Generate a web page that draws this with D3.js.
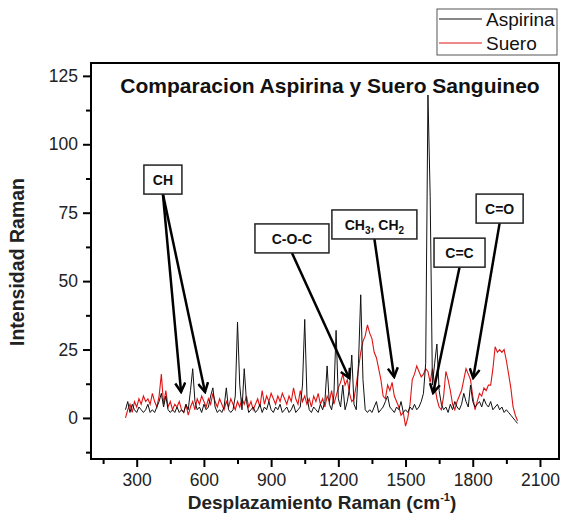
<!DOCTYPE html>
<html>
<head>
<meta charset="utf-8">
<script src="https://cdn.jsdelivr.net/npm/d3@7"></script>
<style>
    body { margin: 0; background: #fff; }
    text { font-family: "Liberation Sans", Arial, sans-serif; }
</style>
</head>
<body>
<svg id="chart" width="561" height="523"></svg>
<script>
// Raman shift grid (cm-1), one value every 10 cm-1 from 250 to 2000
var shiftStart = 250;
var shiftStep = 10;

// Aspirina intensities
var aspirina = [
    3, 6, 2, 5, 3, 2, 4, 3, 2, 3,
    5, 2, 3, 2, 4, 6, 9, 4, 8, 3,
    2, 3, 2, 4, 2, 3, 2, 5, 3, 10,
    18, 6, 3, 4, 2, 5, 3, 4, 8, 11,
    4, 2, 3, 2, 4, 11, 3, 2, 3, 8,
    35, 12, 3, 18, 6, 2, 3, 4, 2, 3,
    5, 2, 4, 3, 6, 3, 2, 4, 3, 5,
    2, 3, 4, 2, 3, 5, 2, 3, 4, 12,
    36, 8, 3, 2, 4, 3, 2, 5, 3, 6,
    19, 5, 3, 8, 32, 7, 4, 12, 3, 6,
    11, 23, 5, 3, 20, 45, 14, 3, 2, 3,
    2, 4, 6, 2, 3, 4, 6, 8, 4, 3,
    2, 4, 3, 6, 2, 3, 2, 4, 3, 5,
    3, 4, 6, 9, 20, 118, 81, 12, 20, 27,
    10, 5, 3, 4, 2, 5, 3, 6, 4, 3,
    5, 9, 6, 4, 12, 6, 4, 5, 6, 4,
    7, 5, 4, 6, 3, 4, 5, 3, 4, 2,
    3, 2, 1, 0, -1, -2
];

// Suero intensities
var suero = [
    0, 3, 5, 2, 6, 4, 7, 5, 8, 6,
    7, 5, 9, 6, 4, 8, 16, 5, 10, 4,
    6, 3, 5, 4, 6, 3, 2, 5, 1, 4,
    6, 3, 7, 5, 8, 6, 4, 7, 5, 9,
    6, 4, 7, 5, 3, 6, 4, 7, 5, 3,
    6, 4, 7, 5, 8, 4, 6, 3, 5, 7,
    4, 10, 5, 8, 6, 9, 7, 5, 8, 6,
    9, 7, 5, 8, 6, 11, 7, 5, 10, 6,
    8, 5, 7, 4, 8, 6, 9, 5, 7, 4,
    8, 6, 10, 5, 8, 11, 13, 16, 12, 14,
    9, 6, 7, 12, 18, 24, 28, 30, 34, 31,
    29, 24, 22, 18, 14, 8, 7, 12, 10, 13,
    8, 6, 4, 1, 2, -3, 0, 5, 14, 16,
    19, 17, 15, 16, 18, 17, 13, 18, 12, 7,
    4, 3, 8, 17, 14, 10, 5, 3, 6, 8,
    10, 14, 18, 16, 14, 8, 3, 6, 9, 8,
    11, 10, 12, 12, 18, 26, 24, 25, 24, 25,
    21, 16, 11, 4, 1, -1
];

var seriesNames = ["Aspirina", "Suero"];
var seriesColors = ["#111111", "#e01414"];

var xTicks = [300, 600, 900, 1200, 1500, 1800, 2100];
var yTicks = [0, 25, 50, 75, 100, 125];

// Band labels: box anchored in data units, arrows from box to band
var bandLabels = ["CH", "C-O-C", "CH3, CH2", "C=C", "C=O"];
var bandBoxShift = [417, 993, 1361, 1741, 1920];
var bandBoxTop = [92.4, 70.9, 76, 65.7, 81.8];
var bandTips = [
    [[498, 9.5], [605, 9.5]],
    [[1248, 14.6]],
    [[1449, 15]],
    [[1623, 9.1]],
    [[1802, 14.6]]
];

// Layout
var plotLeft = 91, plotRight = 559, plotTop = 63, plotBottom = 459;
var boxWidths = [38, 74, 85, 51, 47];
var boxHeight = 29;

var svg = d3.select("#chart");

var x = d3.scaleLinear().domain([96, 2185]).range([plotLeft, plotRight]);
var y = d3.scaleLinear().domain([-15, 129.7]).range([plotBottom, plotTop]);

function toPoints(values) {
    return values.map(function(v, i) { return [shiftStart + i * shiftStep, v]; });
}

var line = d3.line()
    .x(function(d) { return x(d[0]); })
    .y(function(d) { return y(d[1]); });

// Spectra
svg.append("path")
    .datum(toPoints(suero))
    .attr("d", line)
    .attr("fill", "none")
    .attr("stroke", seriesColors[1])
    .attr("stroke-width", 1.1);

svg.append("path")
    .datum(toPoints(aspirina))
    .attr("d", line)
    .attr("fill", "none")
    .attr("stroke", seriesColors[0])
    .attr("stroke-width", 1);

// Axes: major ticks with labels, minor ticks between
var xAxis = d3.axisBottom(x).tickValues(xTicks).tickFormat(d3.format("d")).tickSize(8).tickPadding(7);
var xMinor = d3.axisBottom(x).tickValues(xTicks.map(function(d) { return d - 150; })).tickSize(5).tickFormat("");
var yAxis = d3.axisLeft(y).tickValues(yTicks).tickFormat(d3.format("d")).tickSize(8).tickPadding(5);
var yMinor = d3.axisLeft(y).tickValues(yTicks.map(function(d) { return d - 12.5; })).tickSize(5).tickFormat("");

function styleAxis(g) {
    g.select(".domain").remove();
    g.selectAll(".tick line").attr("stroke", "#000").attr("stroke-width", 2);
    g.selectAll(".tick text")
        .attr("fill", "#222")
        .style("font-size", "17.5px")
        .style("font-family", "'Liberation Sans', Arial, sans-serif");
}

svg.append("g").attr("transform", "translate(0," + plotBottom + ")").call(xAxis).call(styleAxis);
svg.append("g").attr("transform", "translate(0," + plotBottom + ")").call(xMinor).call(styleAxis);
svg.append("g").attr("transform", "translate(" + plotLeft + ",0)").call(yAxis).call(styleAxis);
svg.append("g").attr("transform", "translate(" + plotLeft + ",0)").call(yMinor).call(styleAxis);

// Frame
svg.append("rect")
    .attr("x", plotLeft)
    .attr("y", plotTop)
    .attr("width", plotRight - plotLeft)
    .attr("height", plotBottom - plotTop)
    .attr("fill", "none")
    .attr("stroke", "#000")
    .attr("stroke-width", 2);

// Title and axis labels
svg.append("text")
    .attr("x", 330)
    .attr("y", 93)
    .attr("text-anchor", "middle")
    .style("font-size", "21px")
    .style("font-weight", "bold")
    .attr("fill", "#111")
    .text("Comparacion Aspirina y Suero Sanguineo");

svg.append("text")
    .attr("transform", "translate(24,262) rotate(-90)")
    .attr("text-anchor", "middle")
    .style("font-size", "19.5px")
    .style("font-weight", "bold")
    .attr("fill", "#222")
    .text("Intensidad Raman");

var xLabel = svg.append("text")
    .attr("x", 322)
    .attr("y", 509)
    .attr("text-anchor", "middle")
    .style("font-size", "19px")
    .style("font-weight", "bold")
    .attr("fill", "#222");
xLabel.append("tspan").text("Desplazamiento Raman (cm");
xLabel.append("tspan").attr("dy", -8).style("font-size", "11px").text("-1");
xLabel.append("tspan").attr("dy", 8).text(")");

// Arrow marker: open chevron
svg.append("defs").append("marker")
    .attr("id", "arrow")
    .attr("viewBox", "-10 -6 12 12")
    .attr("refX", 0)
    .attr("refY", 0)
    .attr("markerWidth", 12)
    .attr("markerHeight", 12)
    .attr("markerUnits", "userSpaceOnUse")
    .attr("orient", "auto")
    .append("path")
    .attr("d", "M-9,-5L0,0L-9,5")
    .attr("fill", "none")
    .attr("stroke", "#000")
    .attr("stroke-width", 2.5);

bandLabels.forEach(function(label, i) {
    var cx = x(bandBoxShift[i]);
    var top = y(bandBoxTop[i]);
    var w = boxWidths[i];

    bandTips[i].forEach(function(tip) {
        svg.append("line")
            .attr("x1", cx)
            .attr("y1", top + boxHeight)
            .attr("x2", x(tip[0]))
            .attr("y2", y(tip[1]))
            .attr("stroke", "#000")
            .attr("stroke-width", 2.5)
            .attr("marker-end", "url(#arrow)");
    });

    svg.append("rect")
        .attr("x", cx - w / 2)
        .attr("y", top)
        .attr("width", w)
        .attr("height", boxHeight)
        .attr("fill", "#fff")
        .attr("stroke", "#222")
        .attr("stroke-width", 1.5);

    var t = svg.append("text")
        .attr("x", cx)
        .attr("y", top + 20)
        .attr("text-anchor", "middle")
        .style("font-size", "14px")
        .style("font-weight", "bold")
        .attr("fill", "#111");

    // subscripts for CH3, CH2
    if (label === "CH3, CH2") {
        t.append("tspan").text("CH");
        t.append("tspan").attr("dy", 4).style("font-size", "10px").text("3");
        t.append("tspan").attr("dy", -4).text(", CH");
        t.append("tspan").attr("dy", 4).style("font-size", "10px").text("2");
    } else {
        t.text(label);
    }
});

// Legend
var legend = svg.append("g");
legend.append("rect")
    .attr("x", 437)
    .attr("y", 9)
    .attr("width", 120)
    .attr("height", 46)
    .attr("fill", "#fff")
    .attr("stroke", "#555")
    .attr("stroke-width", 1);

seriesNames.forEach(function(name, i) {
    var ly = 19 + i * 24;
    legend.append("line")
        .attr("x1", 439)
        .attr("x2", 482)
        .attr("y1", ly)
        .attr("y2", ly)
        .attr("stroke", seriesColors[i])
        .attr("stroke-width", 1);
    legend.append("text")
        .attr("x", 486)
        .attr("y", ly + 7)
        .style("font-size", "19px")
        .attr("fill", "#111")
        .text(name);
});
</script>
</body>
</html>
